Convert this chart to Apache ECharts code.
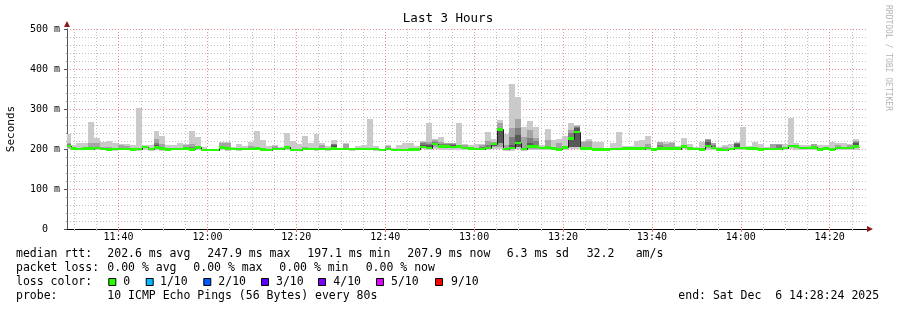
<!DOCTYPE html>
<html><head><meta charset="utf-8">
<script src="https://cdn.jsdelivr.net/npm/echarts@6/dist/echarts.min.js"></script>
<style>html,body{margin:0;padding:0;background:#fff}#c{width:897px;height:310px}</style>
</head><body><div id="c"></div><script>
const MONO = '"DejaVu Sans Mono", monospace';
// time in minutes after 11:00
const axisStart = 28.4;      // 11:28:24
const axisEnd = 208.4;       // 14:28:24
const firstStep = 27 + 52 / 60; // first (partial) 80 s step starts 11:27:52
const stepMin = 80 / 60;
const majorTicks = [40, 60, 80, 100, 120, 140, 160, 180, 200];
const minorTicks = [30, 35, 45, 50, 55, 65, 70, 75, 85, 90, 95, 105, 110, 115, 125, 130, 135, 145, 150, 155, 165, 170, 175, 185, 190, 195, 205];

// values in ms, one per 80 s step
const median = [208,
201,200,201,201,202,200,199,200,200,200, 199,200,205,200,204,201,199,200,200,201,
199,204,197,197,197,204,201,200,200,200, 200,201,199,197,200,200,204,197,197,200,
200,200,200,200,201,200,200,200,200,200, 200,200,198,200,197,198,198,199,199,205,
203,213,206,206,205,206,203,201,200,200, 202,213,249,200,203,215,200,206,206,202,
204,201,199,204,226,243,201,201,199,199, 199,200,200,201,201,201,201,202,199,201,
201,201,201,206,201,200,199,207,203,199, 198,200,203,202,201,201,199,200,200,200,
203,208,206,203,203,204,199,201,199,203, 203,202,206];
const pingMax = [237,
210,214,214,267,227,218,221,214,213,213, 211,302,210,211,245,233,211,211,214,213,
245,230,206,201,201,217,218,206,212,207, 218,245,223,207,210,206,241,221,212,232,
214,238,214,208,222,203,216,203,207,211, 275,207,201,210,202,211,215,215,208,220,
266,225,230,216,216,265,213,211,212,212, 242,225,272,237,362,331,256,271,256,210,
251,222,224,232,264,260,221,224,217,217, 203,214,242,207,207,221,222,232,201,217,
217,217,207,228,213,206,218,226,216,206, 209,212,217,256,207,217,213,204,212,212,
213,278,214,209,209,213,211,209,217,214, 214,212,225];
const ping9 = [216,
204,203,204,214,214,206,204,203,210,208, 202,203,208,203,224,213,202,203,203,210,
213,207,200,200,200,214,214,203,203,203, 208,204,202,200,208,203,206,200,200,206,
203,203,209,203,213,203,212,203,203,203, 203,203,201,208,200,201,201,202,202,218,
217,222,218,214,216,210,210,204,203,211, 220,218,264,210,252,274,231,247,227,205,
222,204,214,207,248,258,217,220,202,202, 202,203,203,204,204,204,204,212,202,217,
212,214,204,210,204,203,202,224,216,202, 205,203,216,205,204,204,202,203,212,212,
206,211,209,206,206,212,202,204,202,209, 206,210,221];
const ping8 = [212,
203,202,203,206,205,202,201,202,202,202, 201,202,207,202,216,206,201,202,202,203,
206,206,199,199,199,207,206,202,202,202, 202,203,201,199,202,202,206,199,199,202,
202,202,202,202,212,202,202,202,202,202, 202,202,200,202,199,200,200,201,201,214,
213,218,212,212,213,208,205,203,202,206, 210,216,252,202,231,252,202,227,219,204,
206,203,201,206,239,256,203,203,201,201, 201,202,202,203,203,203,203,204,201,210,
203,203,203,208,203,202,201,222,210,201, 200,202,215,204,203,203,201,202,202,210,
205,210,208,205,205,206,201,203,201,205, 205,204,218];
const ping7 = [210,
202,201,202,202,203,201,200,201,201,201, 200,201,206,201,211,202,200,201,201,202,
200,205,198,198,198,205,202,201,201,201, 201,202,200,198,201,201,205,198,198,201,
201,201,201,201,211,201,201,201,201,201, 201,201,199,201,198,199,199,200,200,209,
209,215,208,211,210,207,204,202,201,201, 204,215,250,201,210,235,201,215,210,203,
205,202,200,205,231,252,202,202,200,200, 200,201,201,202,202,202,202,203,200,202,
202,202,202,207,202,201,200,218,204,200, 199,201,212,203,202,202,200,201,201,201,
204,209,207,204,204,205,200,202,200,204, 204,203,214];
const pingMin = [199,
198,198,198,197,197,197,195,196,197,197, 195,196,198,196,198,196,196,197,197,197,
195,198,195,195,195,198,196,197,196,197, 197,197,196,195,197,197,198,195,195,197,
197,196,197,196,197,197,197,196,197,197, 197,196,196,197,195,196,196,197,197,199,
198,199,198,198,198,197,198,197,197,197, 198,199,200,196,196,199,196,198,198,197,
198,197,196,197,200,199,197,197,196,196, 197,197,197,198,197,197,197,197,196,197,
197,197,197,199,197,197,196,198,198,195, 195,197,198,197,197,197,196,197,197,197,
198,199,198,198,198,198,196,197,196,198, 198,197,197];
const ping2 = [203,
199,198,199,199,200,198,197,198,198,198, 197,198,202,198,201,199,197,198,198,199,
197,201,196,196,196,201,199,198,198,198, 198,199,197,196,198,198,201,196,196,198,
198,198,198,198,199,198,198,198,198,198, 198,198,197,198,196,197,197,197,197,202,
200,206,202,202,202,202,200,199,198,198, 199,204,205,198,199,204,198,201,201,199,
200,199,197,200,205,205,199,199,197,197, 197,198,198,199,199,199,199,199,197,199,
199,199,199,202,199,198,197,203,200,197, 196,198,200,199,199,199,197,198,198,198,
200,204,202,200,200,201,197,199,197,200, 200,199,202];
const ping3 = [205,
200,199,200,200,201,199,198,199,199,199, 198,199,204,199,203,200,198,199,199,200,
198,203,196,196,196,203,200,199,199,199, 199,200,198,196,199,199,203,196,196,199,
199,199,199,199,200,199,199,199,199,199, 199,199,197,199,196,197,197,198,198,204,
202,210,204,204,204,204,202,200,199,199, 201,208,214,199,201,206,199,204,204,201,
202,200,198,202,206,206,200,200,198,198, 198,199,199,200,200,200,200,201,198,200,
200,200,200,204,200,199,198,205,202,198, 197,199,202,201,200,200,198,199,199,199,
202,206,204,202,202,203,198,200,198,202, 202,201,204];

const row1 = [['median rtt:', 16], ['202.6 ms avg', 107.3], ['247.9 ms max', 207.3], ['197.1 ms min', 307.3], ['207.9 ms now', 407.3], ['6.3 ms sd', 506.7], ['32.2', 586.7], ['am/s', 635.7]];
const row2 = [['packet loss:', 16], ['0.00 % avg', 107.3], ['0.00 % max', 193.3], ['0.00 % min', 279.3], ['0.00 % now', 365.7]];
const row3 = [['loss color:', 16]];
const row4 = [['probe:', 16], ['10 ICMP Echo Pings (56 Bytes) every 80s', 107.3], ['end: Sat Dec  6 14:28:24 2025', 678.3]];
const lossLabels = ['0', '1/10', '2/10', '3/10', '4/10', '5/10', '9/10'];
const lossColors = ['#26ff00', '#00b8ff', '#0059ff', '#5e00ff', '#7e00ff', '#dd00ff', '#ff0000'];
const lossBoxX = [108.3, 145.7, 203.3, 261, 318, 376, 435];
const lossTextX = [123.3, 160, 218.3, 276, 333.3, 391, 451];

const rows = median.map((m, i) => {
  const t0 = firstStep + i * stepMin;
  return [t0, t0 + stepMin, pingMin[i], ping2[i], ping3[i], ping7[i], ping8[i], ping9[i], pingMax[i], m, i > 0 ? median[i - 1] : m];
});

function clipOf(params) { const cs = params.coordSys; return {x: cs.x, y: cs.y, width: cs.width, height: cs.height}; }

function smokeItem(params, api) {
  const clip = clipOf(params);
  const t0 = api.value(0), t1 = api.value(1);
  const layers = [[2, 8, '#cacaca'], [3, 7, '#a4a4a4'], [4, 6, '#7e7e7e'], [4, 5, '#585858']];
  const children = [];
  layers.forEach(([lo, hi, color]) => {
    const a = api.coord([t0, api.value(hi)]), b = api.coord([t1, api.value(lo)]);
    const x0 = Math.round(a[0]), x1 = Math.round(b[0]);
    const y0 = Math.round(a[1]), y1 = Math.round(b[1]);
    if (y1 - y0 <= 0) return;
    const r = echarts.graphic.clipRectByRect({x: x0, y: y0, width: x1 - x0, height: y1 - y0}, clip);
    if (r) children.push({type: 'rect', shape: r, style: {fill: color}});
  });
  return {type: 'group', children};
}
function lineItem(params, api) {
  const clip = clipOf(params);
  const t0 = api.value(0), t1 = api.value(1);
  const a = api.coord([t0, api.value(10)]), b = api.coord([t1, api.value(9)]);
  const x0 = Math.max(Math.round(a[0]), clip.x) + 0.5, x1 = Math.round(b[0]) + 0.5;
  const yp = Math.round(a[1]) + 0.5, y = Math.round(b[1]) + 0.5;
  return {type: 'polyline', shape: {points: [[x0, yp], [x0, y], [x1, y]]}, style: {stroke: '#202020', lineWidth: 1, fill: null}};
}
function bandItem(params, api) {
  const clip = clipOf(params);
  const t0 = api.value(0), t1 = api.value(1), m = api.value(9);
  const a = api.coord([t0, m + 2.8]), b = api.coord([t1, m - 2.8]);
  const x0 = Math.round(a[0]), x1 = Math.round(b[0]);
  const y0 = Math.round(a[1]), y1 = Math.round(b[1]);
  const r = echarts.graphic.clipRectByRect({x: x0, y: y0, width: x1 - x0, height: Math.max(1, y1 - y0)}, clip);
  return r ? {type: 'rect', shape: r, style: {fill: lossColors[0]}} : null;
}

const fmtTime = m => (11 + Math.floor(m / 60)) + ':' + String(m % 60).padStart(2, '0');

const graphics = [];
const addRow = (row, y) => row.forEach(([t, x]) => graphics.push({type: 'text', x, y, silent: true,
  style: {text: t, fontFamily: MONO, fontSize: 11.5, fill: '#000', align: 'left', verticalAlign: 'middle'}}));
addRow(row1, 254.5); addRow(row2, 268.5); addRow(row3, 282.5); addRow(row4, 296.5);
lossLabels.forEach((l, i) => {
  graphics.push({type: 'rect', silent: true, shape: {x: lossBoxX[i] + 0.5, y: 278.5, width: 7, height: 7}, style: {fill: lossColors[i], stroke: '#000', lineWidth: 1}});
  graphics.push({type: 'text', x: lossTextX[i], y: 282.5, silent: true, style: {text: l, fontFamily: MONO, fontSize: 11.5, fill: '#000', align: 'left', verticalAlign: 'middle'}});
});
graphics.push({type: 'text', x: 448, y: 19, silent: true, style: {text: 'Last 3 Hours', fontFamily: MONO, fontSize: 12.5, fill: '#000', align: 'center', verticalAlign: 'middle'}});
graphics.push({type: 'text', x: 888, y: 5, rotation: -Math.PI / 2, silent: true, style: {text: 'RRDTOOL / TOBI OETIKER', fontFamily: MONO, fontSize: 8, fill: '#b4b4b4', align: 'left', verticalAlign: 'middle'}});

const gridLine = (color) => ({show: true, lineStyle: {color, width: 1, type: [1, 2]}});
const chart = echarts.init(document.getElementById('c'), null, {renderer: 'canvas'});
chart.setOption({
  animation: false,
  backgroundColor: '#fff',
  grid: {left: 67, right: 30, top: 29, bottom: 81, containLabel: false, outerBoundsMode: 'none'},
  xAxis: [
    {type: 'value', position: 'bottom', offset: 0, min: axisStart, max: axisEnd, axisLine: {show: false},
      axisTick: {show: true, customValues: minorTicks, length: 2, lineStyle: {color: '#bbbbbb'}},
      axisLabel: {show: false}, splitLine: gridLine('#c0c0c0')},
    {type: 'value', position: 'bottom', offset: 0, min: axisStart, max: axisEnd,
      axisLine: {show: true, onZero: false, lineStyle: {color: '#000', width: 1}},
      axisTick: {show: true, customValues: majorTicks, length: 3, lineStyle: {color: '#e07070'}},
      axisLabel: {customValues: majorTicks, formatter: v => fmtTime(Math.round(v)), fontFamily: MONO, fontSize: 10, color: '#000', margin: 3},
      splitLine: gridLine('#ea9090')},
    {type: 'value', position: 'bottom', offset: 0, min: axisStart, max: axisEnd,
      axisLine: {show: true, onZero: false, symbol: ['none', 'triangle'], symbolSize: [6, 6], symbolOffset: [0, 3], lineStyle: {color: '#8b1a1a', width: 0}},
      axisTick: {show: false}, axisLabel: {show: false}, splitLine: {show: false}}
  ],
  yAxis: [
    {type: 'value', position: 'left', offset: 0, min: 0, max: 500, interval: 100,
      name: 'Seconds', nameLocation: 'middle', nameGap: 50, nameRotate: 90,
      nameTextStyle: {fontFamily: MONO, fontSize: 11, color: '#000'},
      axisLine: {show: true, lineStyle: {color: '#555', width: 1}},
      axisTick: {show: true, length: 3, lineStyle: {color: '#555'}},
      minorTick: {show: true, splitNumber: 5, length: 1, lineStyle: {color: '#999'}},
      axisLabel: {formatter: v => v === 0 ? '0' : v + ' m', align: 'center', margin: 22, fontFamily: MONO, fontSize: 10, color: '#000'},
      splitLine: gridLine('#ea9090'),
      minorSplitLine: gridLine('#c0c0c0')},
    {type: 'value', position: 'left', offset: 0, min: 0, max: 500,
      axisLine: {show: true, symbol: ['none', 'triangle'], symbolSize: [6, 6], symbolOffset: [0, 5], lineStyle: {color: '#8b1a1a', width: 0}},
      axisTick: {show: false}, axisLabel: {show: false}, splitLine: {show: false}}
  ],
  series: [
    {type: 'custom', name: 'smoke', xAxisIndex: 1, yAxisIndex: 0, silent: true, renderItem: smokeItem, data: rows,
      encode: {x: [0, 1], y: [2, 8]}},
    {type: 'custom', name: 'median line', xAxisIndex: 1, yAxisIndex: 0, silent: true, renderItem: lineItem, data: rows,
      encode: {x: [0, 1], y: [9, 10]}},
    {type: 'custom', name: 'median', xAxisIndex: 1, yAxisIndex: 0, silent: true, renderItem: bandItem, data: rows,
      encode: {x: [0, 1], y: [9]}}
  ],
  graphic: graphics
});
</script></body></html>
